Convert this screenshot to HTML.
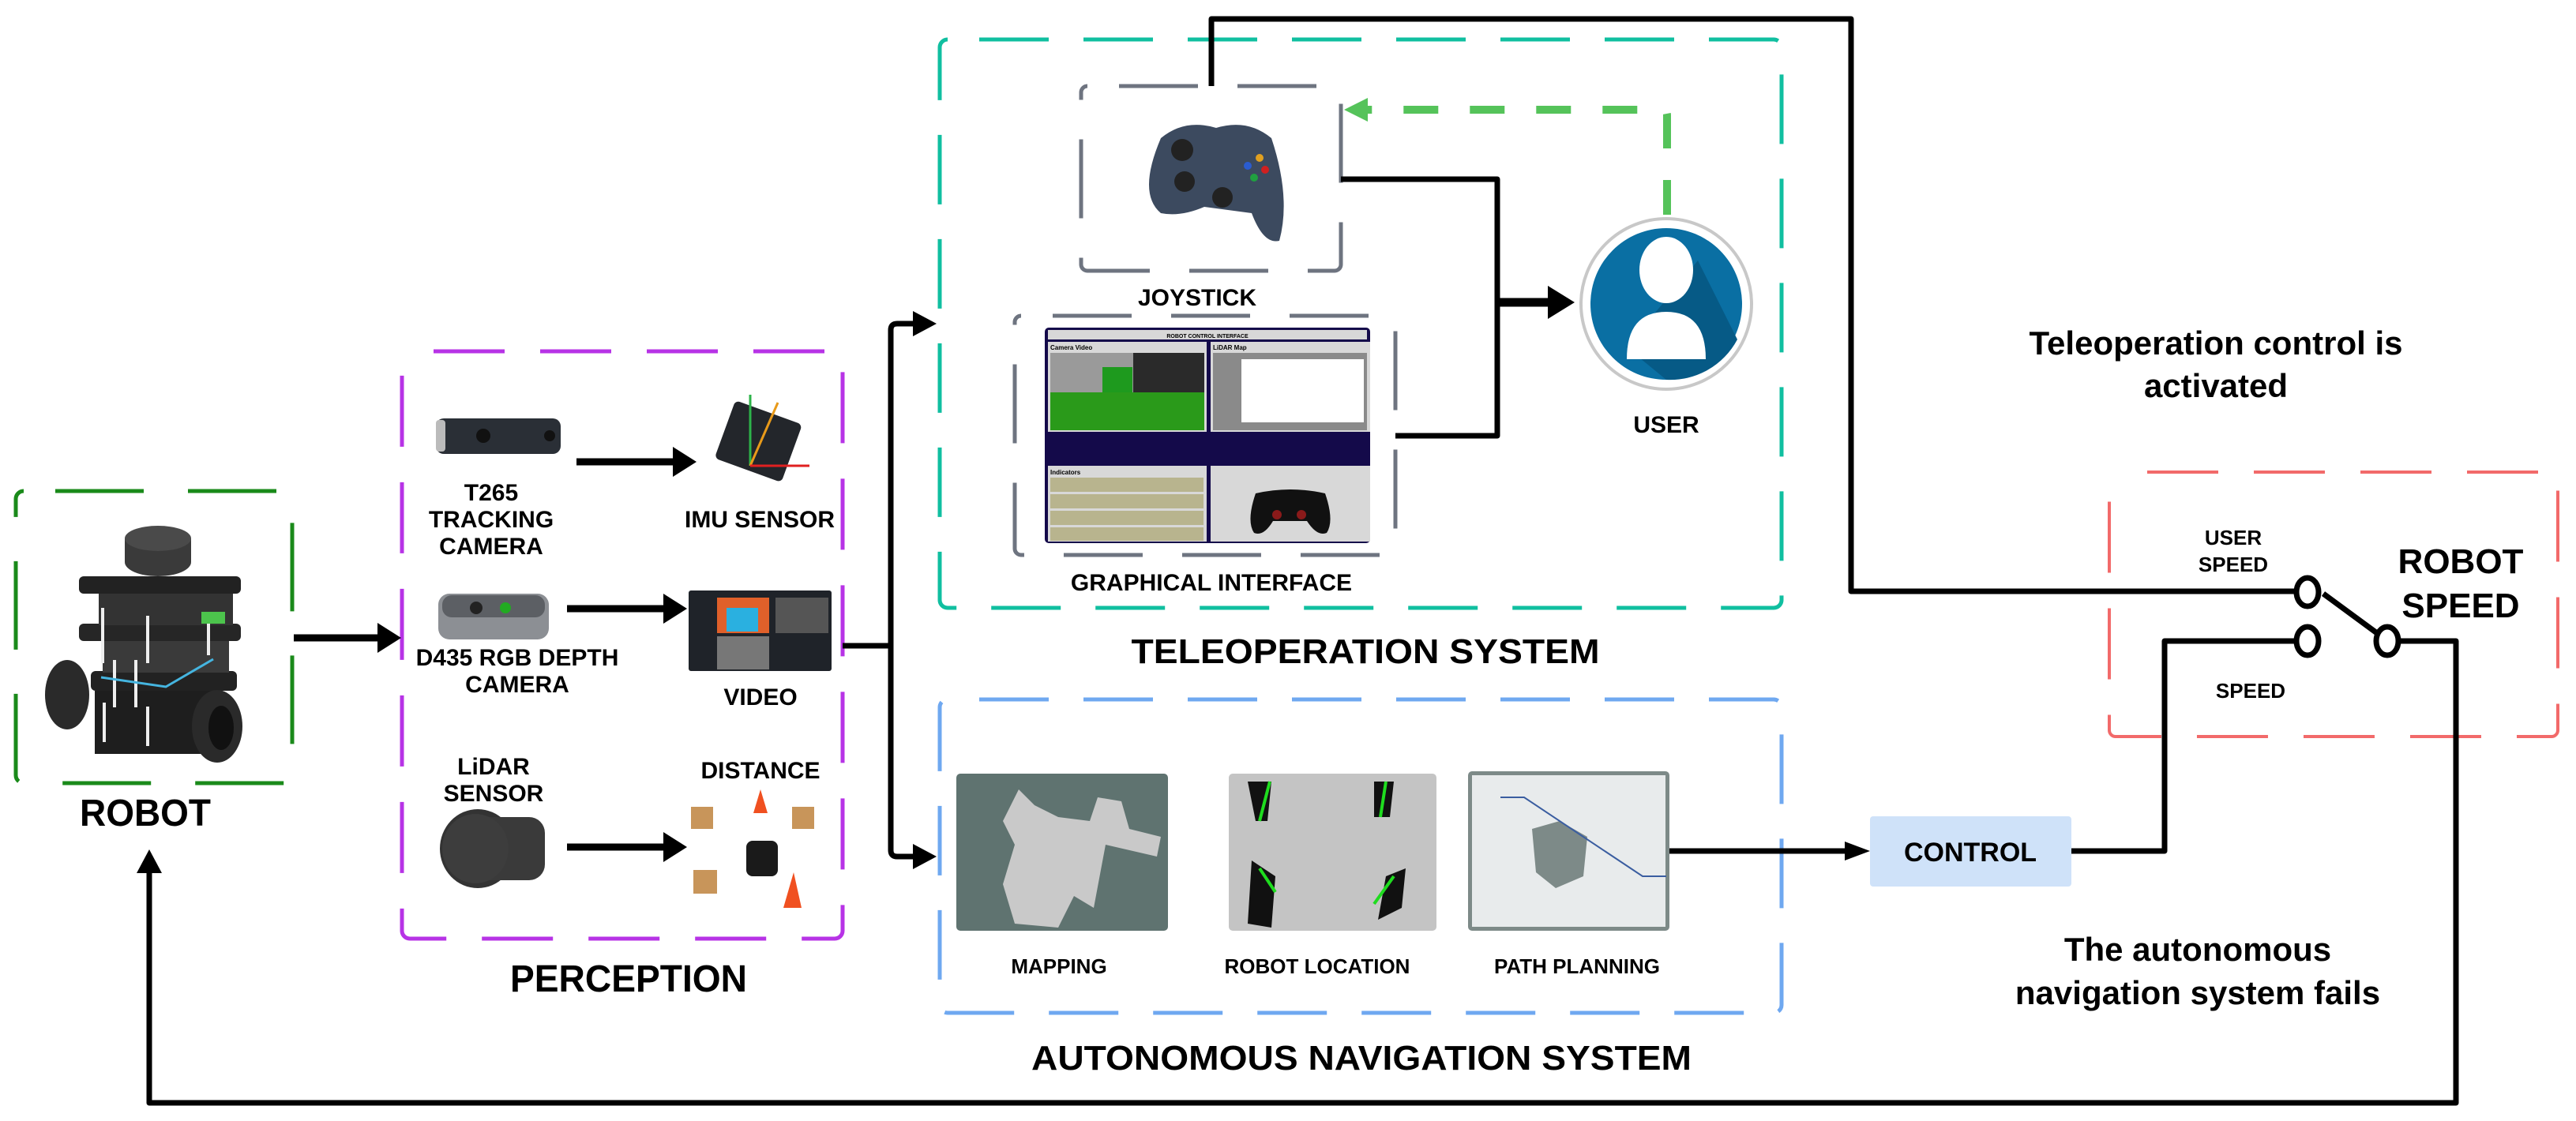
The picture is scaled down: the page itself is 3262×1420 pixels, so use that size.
<!DOCTYPE html>
<html><head><meta charset="utf-8"><style>
html,body{margin:0;padding:0;background:#fff;}
svg{display:block;}
text{font-family:"Liberation Sans",sans-serif;font-weight:bold;fill:#000;}
</style></head><body>
<svg width="3262" height="1420" viewBox="0 0 3262 1420" xmlns="http://www.w3.org/2000/svg">

<!-- dashed boxes -->
<rect x="20" y="622" width="350" height="370" rx="10" fill="none" stroke="#1a8a1a" stroke-width="5" stroke-dasharray="112 56" stroke-dashoffset="-40"/>
<rect x="509" y="445" width="558" height="744" rx="10" fill="none" stroke="#b733e6" stroke-width="5" stroke-dasharray="90 45" stroke-dashoffset="-30"/>
<rect x="1190" y="50" width="1066" height="720" rx="10" fill="none" stroke="#10bfa0" stroke-width="5" stroke-dasharray="88 44" stroke-dashoffset="-40"/>
<rect x="1369" y="109" width="329" height="234" rx="8" fill="none" stroke="#6e7480" stroke-width="5" stroke-dasharray="100 50" stroke-dashoffset="-40"/>
<rect x="1285" y="400" width="482" height="303" rx="8" fill="none" stroke="#6e7480" stroke-width="5" stroke-dasharray="100 50" stroke-dashoffset="-40"/>
<rect x="1190" y="886" width="1066" height="397" rx="10" fill="none" stroke="#6fa8f0" stroke-width="5" stroke-dasharray="88 44" stroke-dashoffset="-40"/>
<rect x="2671" y="598" width="568" height="335" rx="8" fill="none" stroke="#f26a6a" stroke-width="4" stroke-dasharray="90 45" stroke-dashoffset="-40"/>

<!-- Robot image -->
<g>
<rect x="100" y="730" width="205" height="22" rx="6" fill="#222"/>
<rect x="100" y="790" width="205" height="22" rx="6" fill="#262626"/>
<rect x="115" y="850" width="185" height="25" rx="6" fill="#222"/>
<rect x="120" y="875" width="160" height="80" fill="#1e1e1e"/>
<rect x="125" y="752" width="170" height="40" fill="#333"/>
<rect x="130" y="812" width="160" height="40" fill="#3a3a3a"/>
<ellipse cx="200" cy="712" rx="42" ry="18" fill="#3a3a3a"/>
<rect x="158" y="682" width="84" height="30" fill="#3a3a3a"/>
<ellipse cx="200" cy="682" rx="42" ry="16" fill="#4a4a4a"/>
<ellipse cx="85" cy="880" rx="28" ry="44" fill="#2a2a2a"/>
<ellipse cx="275" cy="920" rx="32" ry="46" fill="#2a2a2a"/>
<ellipse cx="280" cy="922" rx="16" ry="28" fill="#111"/>
<rect x="128" y="770" width="4" height="70" fill="#eee"/><rect x="185" y="780" width="4" height="60" fill="#eee"/><rect x="262" y="775" width="4" height="55" fill="#eee"/>
<rect x="143" y="836" width="4" height="60" fill="#eee"/><rect x="170" y="836" width="4" height="60" fill="#eee"/><rect x="130" y="890" width="4" height="50" fill="#eee"/><rect x="185" y="895" width="4" height="50" fill="#eee"/>
<path d="M128,858 L210,870 L270,835" stroke="#45b5e0" stroke-width="3" fill="none"/>
<rect x="255" y="775" width="30" height="15" fill="#4cc44c"/>
</g>
<text x="184" y="1046" font-size="48" text-anchor="middle" textLength="166" lengthAdjust="spacingAndGlyphs">ROBOT</text>

<!-- Perception content -->
<rect x="552" y="530" width="158" height="45" rx="10" fill="#2a2f36"/>
<rect x="552" y="532" width="12" height="40" rx="4" fill="#bbb"/>
<circle cx="612" cy="552" r="9" fill="#111"/><circle cx="696" cy="552" r="7" fill="#111"/>
<g transform="rotate(20 960 560)"><rect x="915" y="520" width="90" height="78" rx="6" fill="#23262b"/></g>
<line x1="950" y1="590" x2="950" y2="500" stroke="#2db34a" stroke-width="3"/>
<line x1="950" y1="590" x2="985" y2="510" stroke="#e89a1a" stroke-width="3"/>
<line x1="950" y1="590" x2="1025" y2="590" stroke="#e02020" stroke-width="3"/>
<text x="622" y="634" font-size="30" text-anchor="middle">T265</text>
<text x="622" y="668" font-size="30" text-anchor="middle">TRACKING</text>
<text x="622" y="702" font-size="30" text-anchor="middle">CAMERA</text>
<text x="962" y="668" font-size="30" text-anchor="middle">IMU SENSOR</text>
<line x1="730" y1="585" x2="856" y2="585" stroke="#000" stroke-width="9"/>
<path d="M852,566 L882,585 L852,604z" fill="#000"/>

<rect x="555" y="752" width="140" height="58" rx="14" fill="#8c8f94"/>
<rect x="560" y="754" width="130" height="28" rx="12" fill="#5c5f64"/>
<circle cx="603" cy="770" r="8" fill="#222"/><circle cx="640" cy="770" r="7" fill="#2a2"/>
<rect x="872" y="748" width="181" height="102" rx="3" fill="#1f2329"/>
<rect x="908" y="757" width="66" height="45" fill="#e0602a"/><rect x="920" y="770" width="40" height="30" fill="#2ab0e0"/>
<rect x="982" y="757" width="67" height="45" fill="#555"/><rect x="908" y="806" width="66" height="42" fill="#777"/>
<text x="655" y="843" font-size="30" text-anchor="middle">D435 RGB DEPTH</text>
<text x="655" y="877" font-size="30" text-anchor="middle">CAMERA</text>
<text x="963" y="893" font-size="30" text-anchor="middle">VIDEO</text>
<line x1="718" y1="771" x2="844" y2="771" stroke="#000" stroke-width="9"/>
<path d="M840,752 L870,771 L840,790z" fill="#000"/>

<text x="625" y="981" font-size="30" text-anchor="middle">LiDAR</text>
<text x="625" y="1015" font-size="30" text-anchor="middle">SENSOR</text>
<ellipse cx="605" cy="1075" rx="48" ry="50" fill="#333"/>
<rect x="600" y="1035" width="90" height="80" rx="20" fill="#3a3a3a"/>
<ellipse cx="602" cy="1075" rx="42" ry="44" fill="#3d3d3d"/>
<text x="963" y="986" font-size="30" text-anchor="middle">DISTANCE</text>
<rect x="875" y="1022" width="28" height="28" fill="#c8955a"/><rect x="1003" y="1022" width="28" height="28" fill="#c8955a"/><rect x="878" y="1102" width="30" height="30" fill="#c8955a"/>
<path d="M963,1000 L972,1030 L954,1030z" fill="#f05020"/><path d="M1005,1105 L1015,1150 L992,1150z" fill="#f05020"/>
<rect x="945" y="1065" width="40" height="45" rx="8" fill="#1a1a1a"/>
<line x1="718" y1="1073" x2="844" y2="1073" stroke="#000" stroke-width="9"/>
<path d="M840,1054 L870,1073 L840,1092z" fill="#000"/>

<text x="796" y="1256" font-size="48" text-anchor="middle" textLength="300" lengthAdjust="spacingAndGlyphs">PERCEPTION</text>

<!-- robot -> perception -->
<line x1="372" y1="808" x2="482" y2="808" stroke="#000" stroke-width="9"/>
<path d="M478,789 L508,808 L478,827z" fill="#000"/>

<!-- perception -> branch -->
<path d="M1067,818 L1128,818" stroke="#000" stroke-width="7" fill="none"/>
<path d="M1160,410 L1136,410 Q1128,410 1128,418 L1128,1077 Q1128,1085 1136,1085 L1160,1085" stroke="#000" stroke-width="7" fill="none"/>
<path d="M1156,394 L1186,410 L1156,426z" fill="#000"/>
<path d="M1156,1069 L1186,1085 L1156,1101z" fill="#000"/>

<!-- Joystick -->
<path d="M1470,175 Q1500,150 1540,162 Q1580,150 1610,175 Q1635,250 1620,305 Q1600,310 1585,270 L1525,262 Q1495,275 1470,270 Q1440,245 1470,175z" fill="#3c4a5f"/>
<circle cx="1497" cy="190" r="14" fill="#222"/><circle cx="1500" cy="230" r="13" fill="#222"/><circle cx="1548" cy="250" r="13" fill="#222"/>
<circle cx="1580" cy="210" r="5" fill="#2a5cd0"/><circle cx="1595" cy="200" r="5" fill="#e0a020"/><circle cx="1602" cy="215" r="5" fill="#d02020"/><circle cx="1588" cy="225" r="5" fill="#20a040"/>
<text x="1516" y="387" font-size="30" text-anchor="middle">JOYSTICK</text>

<!-- GUI -->
<rect x="1323" y="415" width="412" height="273" rx="5" fill="#140a4a"/>
<rect x="1327" y="418" width="404" height="12" fill="#d8d8d8"/>
<text x="1529" y="428" font-size="7" text-anchor="middle">ROBOT CONTROL INTERFACE</text>
<rect x="1327" y="433" width="201" height="114" fill="#d8d8d8"/>
<rect x="1330" y="447" width="195" height="50" fill="#9a9a9a"/><rect x="1435" y="447" width="90" height="50" fill="#2a2a2a"/>
<rect x="1396" y="465" width="38" height="32" fill="#1e9a1e"/>
<rect x="1330" y="497" width="195" height="48" fill="#2a9a1a"/>
<text x="1330" y="443" font-size="8">Camera Video</text>
<rect x="1533" y="433" width="202" height="114" fill="#d8d8d8"/>
<rect x="1536" y="447" width="195" height="98" fill="#8a8a8a"/>
<rect x="1572" y="455" width="155" height="80" fill="#fff"/>
<text x="1536" y="443" font-size="8">LiDAR Map</text>
<rect x="1327" y="590" width="201" height="96" fill="#d8d8d8"/>
<rect x="1330" y="605" width="194" height="18" fill="#b8b48e"/><rect x="1330" y="626" width="194" height="18" fill="#b8b48e"/><rect x="1330" y="647" width="194" height="18" fill="#b8b48e"/><rect x="1330" y="668" width="194" height="17" fill="#b8b48e"/>
<text x="1330" y="601" font-size="8">Indicators</text>
<rect x="1533" y="590" width="202" height="96" fill="#d8d8d8"/>
<path d="M1590,625 Q1634,615 1678,625 Q1690,660 1680,675 Q1668,680 1655,660 L1612,660 Q1600,680 1588,675 Q1578,660 1590,625z" fill="#111"/>
<circle cx="1617" cy="652" r="6" fill="#8a1a1a"/><circle cx="1648" cy="652" r="6" fill="#8a1a1a"/>
<text x="1534" y="748" font-size="30" text-anchor="middle">GRAPHICAL INTERFACE</text>

<!-- joystick/GUI -> user -->
<path d="M1698,227 L1896,227 L1896,552 L1767,552" stroke="#000" stroke-width="7" fill="none" stroke-linejoin="round"/>
<line x1="1896" y1="383" x2="1966" y2="383" stroke="#000" stroke-width="11"/>
<path d="M1960,362 L1994,383 L1960,404z" fill="#000"/>

<!-- user -->
<circle cx="2110" cy="385" r="108" fill="#fff" stroke="#c8c8c8" stroke-width="4"/>
<circle cx="2110" cy="385" r="96" fill="#0a6fa3"/>
<path d="M2150,330 L2200,430 A96,96 0 0 1 2110,481 L2060,440z" fill="#065a86"/>
<ellipse cx="2110" cy="342" rx="34" ry="42" fill="#fff"/>
<path d="M2060,455 Q2060,395 2110,395 Q2160,395 2160,455z" fill="#fff"/>
<text x="2110" y="548" font-size="30" text-anchor="middle">USER</text>

<!-- green dashed -->
<path d="M2111,272 L2111,146 Q2111,139 2104,139 L1730,139" stroke="#55c35a" stroke-width="10" fill="none" stroke-dasharray="44 40"/>
<path d="M1702,139 L1732,124 L1732,154z" fill="#55c35a"/>

<text x="1729" y="840" font-size="44" text-anchor="middle" textLength="593" lengthAdjust="spacingAndGlyphs">TELEOPERATION SYSTEM</text>

<!-- teleop line to switch -->
<path d="M1534,109 L1534,24 L2344,24 L2344,749 L2908,749" stroke="#000" stroke-width="7" fill="none" stroke-linejoin="round"/>

<!-- autonomous images -->
<rect x="1211" y="980" width="268" height="199" rx="5" fill="#5f7370"/>
<path d="M1290,1000 L1310,1020 L1340,1035 L1380,1040 L1390,1010 L1420,1015 L1430,1050 L1470,1060 L1465,1085 L1400,1070 L1385,1150 L1360,1135 L1340,1175 L1285,1170 L1270,1120 L1285,1070 L1270,1040z" fill="#c9c9c9"/>
<rect x="1556" y="980" width="263" height="199" rx="5" fill="#c4c4c4"/>
<path d="M1580,990 L1610,990 L1605,1040 L1590,1040z" fill="#111"/><path d="M1740,990 L1765,990 L1760,1035 L1740,1035z" fill="#111"/>
<path d="M1585,1090 L1615,1110 L1610,1175 L1580,1170z" fill="#111"/><path d="M1755,1110 L1780,1100 L1775,1150 L1745,1165z" fill="#111"/>
<line x1="1608" y1="990" x2="1595" y2="1040" stroke="#1fdc1f" stroke-width="4"/><line x1="1755" y1="990" x2="1748" y2="1035" stroke="#1fdc1f" stroke-width="4"/>
<line x1="1595" y1="1100" x2="1615" y2="1130" stroke="#1fdc1f" stroke-width="4"/><line x1="1765" y1="1110" x2="1740" y2="1145" stroke="#1fdc1f" stroke-width="4"/>
<rect x="1859" y="977" width="255" height="202" rx="5" fill="#7d8a88"/>
<rect x="1864" y="982" width="245" height="192" fill="#e8ebec"/>
<path d="M1940,1050 L1975,1040 L2010,1060 L2005,1110 L1970,1125 L1945,1105z" fill="#7d8a88"/>
<path d="M1900,1010 L1930,1010 L2080,1110 L2110,1110" stroke="#3a5da0" stroke-width="2" fill="none"/>

<text x="1341" y="1233" font-size="26" text-anchor="middle">MAPPING</text>
<text x="1668" y="1233" font-size="26" text-anchor="middle">ROBOT LOCATION</text>
<text x="1997" y="1233" font-size="26" text-anchor="middle">PATH PLANNING</text>
<text x="1724" y="1355" font-size="44" text-anchor="middle" textLength="836" lengthAdjust="spacingAndGlyphs">AUTONOMOUS NAVIGATION SYSTEM</text>

<!-- path planning -> control -->
<line x1="2114" y1="1078" x2="2342" y2="1078" stroke="#000" stroke-width="7"/>
<path d="M2336,1066 L2368,1078 L2336,1090z" fill="#000"/>
<rect x="2368" y="1034" width="255" height="89" rx="4" fill="#cfe2f9"/>
<text x="2495" y="1091" font-size="34" text-anchor="middle">CONTROL</text>

<!-- control -> switch -->
<path d="M2623,1078 L2741,1078 L2741,812 L2908,812" stroke="#000" stroke-width="7" fill="none" stroke-linejoin="round"/>
<!-- switch -->
<ellipse cx="2922" cy="750" rx="14" ry="18" fill="#fff" stroke="#000" stroke-width="7"/>
<ellipse cx="2922" cy="812" rx="14" ry="18" fill="#fff" stroke="#000" stroke-width="7"/>
<ellipse cx="3023" cy="812" rx="14" ry="18" fill="#fff" stroke="#000" stroke-width="7"/>
<line x1="2942" y1="752" x2="3010" y2="802" stroke="#000" stroke-width="7"/>
<path d="M3037,812 L3110,812 L3110,1397 L189,1397 L189,1100" stroke="#000" stroke-width="7" fill="none" stroke-linejoin="round"/>
<path d="M173,1106 L189,1076 L205,1106z" fill="#000"/>

<text x="2828" y="690" font-size="26" text-anchor="middle">USER</text>
<text x="2828" y="724" font-size="26" text-anchor="middle">SPEED</text>
<text x="2850" y="884" font-size="26" text-anchor="middle">SPEED</text>
<text x="3116" y="726" font-size="44" text-anchor="middle">ROBOT</text>
<text x="3116" y="782" font-size="44" text-anchor="middle">SPEED</text>

<text x="2806" y="449" font-size="42" text-anchor="middle">Teleoperation control is</text>
<text x="2806" y="503" font-size="42" text-anchor="middle">activated</text>
<text x="2783" y="1217" font-size="42" text-anchor="middle">The autonomous</text>
<text x="2783" y="1272" font-size="42" text-anchor="middle">navigation system fails</text>
</svg>
</body></html>
